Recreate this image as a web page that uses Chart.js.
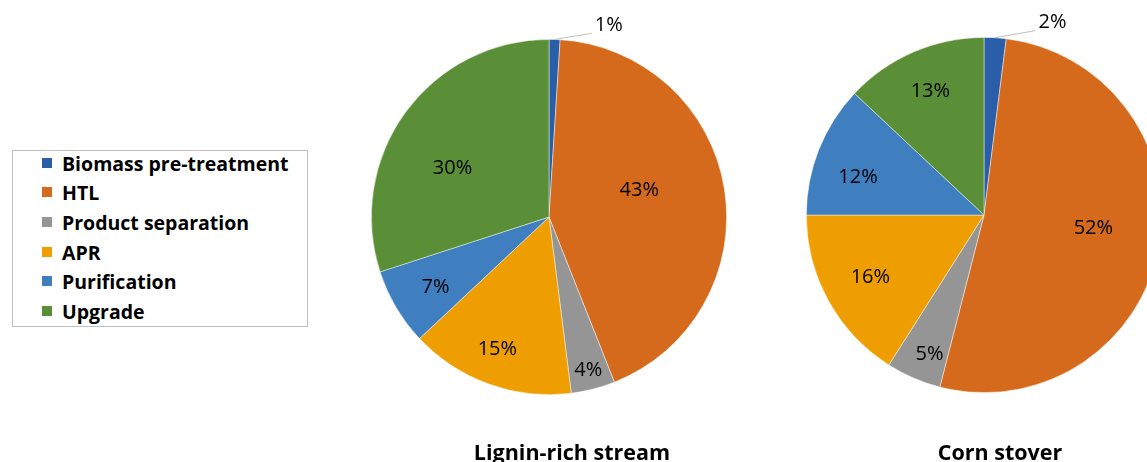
<!DOCTYPE html>
<html>
<head>
<meta charset="utf-8">
<script src="https://cdn.jsdelivr.net/npm/chart.js@4.4.1/dist/chart.umd.min.js"></script>
<style>
  html, body { margin: 0; padding: 0; width: 1147px; height: 462px; overflow: hidden; background: #fff; font-family: "Open Sans", sans-serif; }
  .wrap { position: absolute; }
  #legend { position: absolute; left: 12px; top: 150px; width: 296px; height: 177px; border: 1px solid #bfbfbf; box-sizing: border-box; }
  #legend .item { position: absolute; left: 29px; height: 30px; display: flex; align-items: center; font-weight: bold; font-size: 19.5px; color: #000; white-space: nowrap; }
  #legend .sw { width: 10px; height: 10px; margin-right: 10px; }
  .title { position: absolute; top: 437px; font-weight: bold; font-size: 21.5px; line-height: 29px; transform: translateX(-50%); white-space: nowrap; color: #000; }
</style>
</head>
<body>
<div id="legend"></div>
<div class="wrap" style="left:300px;top:0;width:500px;height:462px"><canvas id="lignin"></canvas></div>
<div class="wrap" style="left:760px;top:0;width:440px;height:462px"><canvas id="corn"></canvas></div>
<div class="title" style="left:572px">Lignin-rich stream</div>
<div class="title" style="left:1000px">Corn stover</div>
<script>
// 数据
const categories = ['Biomass pre-treatment', 'HTL', 'Product separation', 'APR', 'Purification', 'Upgrade'];
const ligninValues = [1, 43, 4, 15, 7, 30];
const cornValues = [2, 52, 5, 16, 12, 13];
const colors = ['#2a5ea8', '#d56a1c', '#959595', '#ee9e00', '#3f7ebf', '#5a8f37'];

// 图例（HTML）
const legend = document.getElementById('legend');
const rowY = [13, 42, 72, 102, 131, 161];
categories.forEach((name, i) => {
  const item = document.createElement('div');
  item.className = 'item';
  item.style.top = (rowY[i] - 15 - 1) + 'px';
  item.innerHTML = '<span class="sw" style="background:' + colors[i] + '"></span>' + name;
  legend.appendChild(item);
});

// 百分比标签 [半径比例, 角度偏移(度)]
const pctLabels = {
  id: 'pctLabels',
  afterDatasetsDraw(chart, args, opts) {
    const ctx = chart.ctx;
    const meta = chart.getDatasetMeta(0);
    const values = chart.data.datasets[0].data;
    ctx.save();
    ctx.font = '20px "Open Sans"';
    ctx.fillStyle = '#000';
    ctx.textAlign = 'center';
    ctx.textBaseline = 'middle';
    meta.data.forEach((arc, i) => {
      const spot = opts.spots[i];
      const mid0 = (arc.startAngle + arc.endAngle) / 2;
      const ang = mid0 + spot[1] * Math.PI / 180;
      const r = arc.outerRadius * spot[0];
      const x = arc.x + Math.cos(ang) * r;
      const y = arc.y + Math.sin(ang) * r;
      const text = values[i] + '%';
      if (spot[0] > 1) { // 外部标签加引线
        const w = ctx.measureText(text).width;
        ctx.strokeStyle = '#bfbfbf';
        ctx.lineWidth = 1;
        ctx.beginPath();
        ctx.moveTo(arc.x + Math.cos(mid0) * arc.outerRadius, arc.y + Math.sin(mid0) * arc.outerRadius);
        ctx.lineTo(x - w / 2 - 3, y + 8);
        ctx.stroke();
      }
      ctx.fillText(text, x, y);
    });
    ctx.restore();
  }
};

function makePie(id, values, padding, spots) {
  return new Chart(document.getElementById(id), {
    type: 'pie',
    data: {
      labels: categories,
      datasets: [{
        data: values,
        backgroundColor: colors,
        borderColor: 'rgba(255,255,255,0.6)',
        borderWidth: 0.75
      }]
    },
    options: {
      responsive: true,
      maintainAspectRatio: false,
      animation: false,
      events: [],
      layout: { padding: padding },
      plugins: {
        legend: { display: false },
        tooltip: { enabled: false },
        pctLabels: { spots: spots }
      }
    },
    plugins: [pctLabels]
  });
}

makePie('lignin', ligninValues,
  { left: 71, right: 73, top: 39, bottom: 67 },
  [[1.13, 15.5], [0.53, -7.5], [0.89, 0], [0.8, 1.5], [0.75, -1], [0.61, -9]]);

makePie('corn', cornValues,
  { left: 46, right: 38, top: 37, bottom: 69 },
  [[1.15, 16], [0.62, -4], [0.84, -2], [0.73, 0], [0.74, -5], [0.76, 0]]);
</script>
</body>
</html>
